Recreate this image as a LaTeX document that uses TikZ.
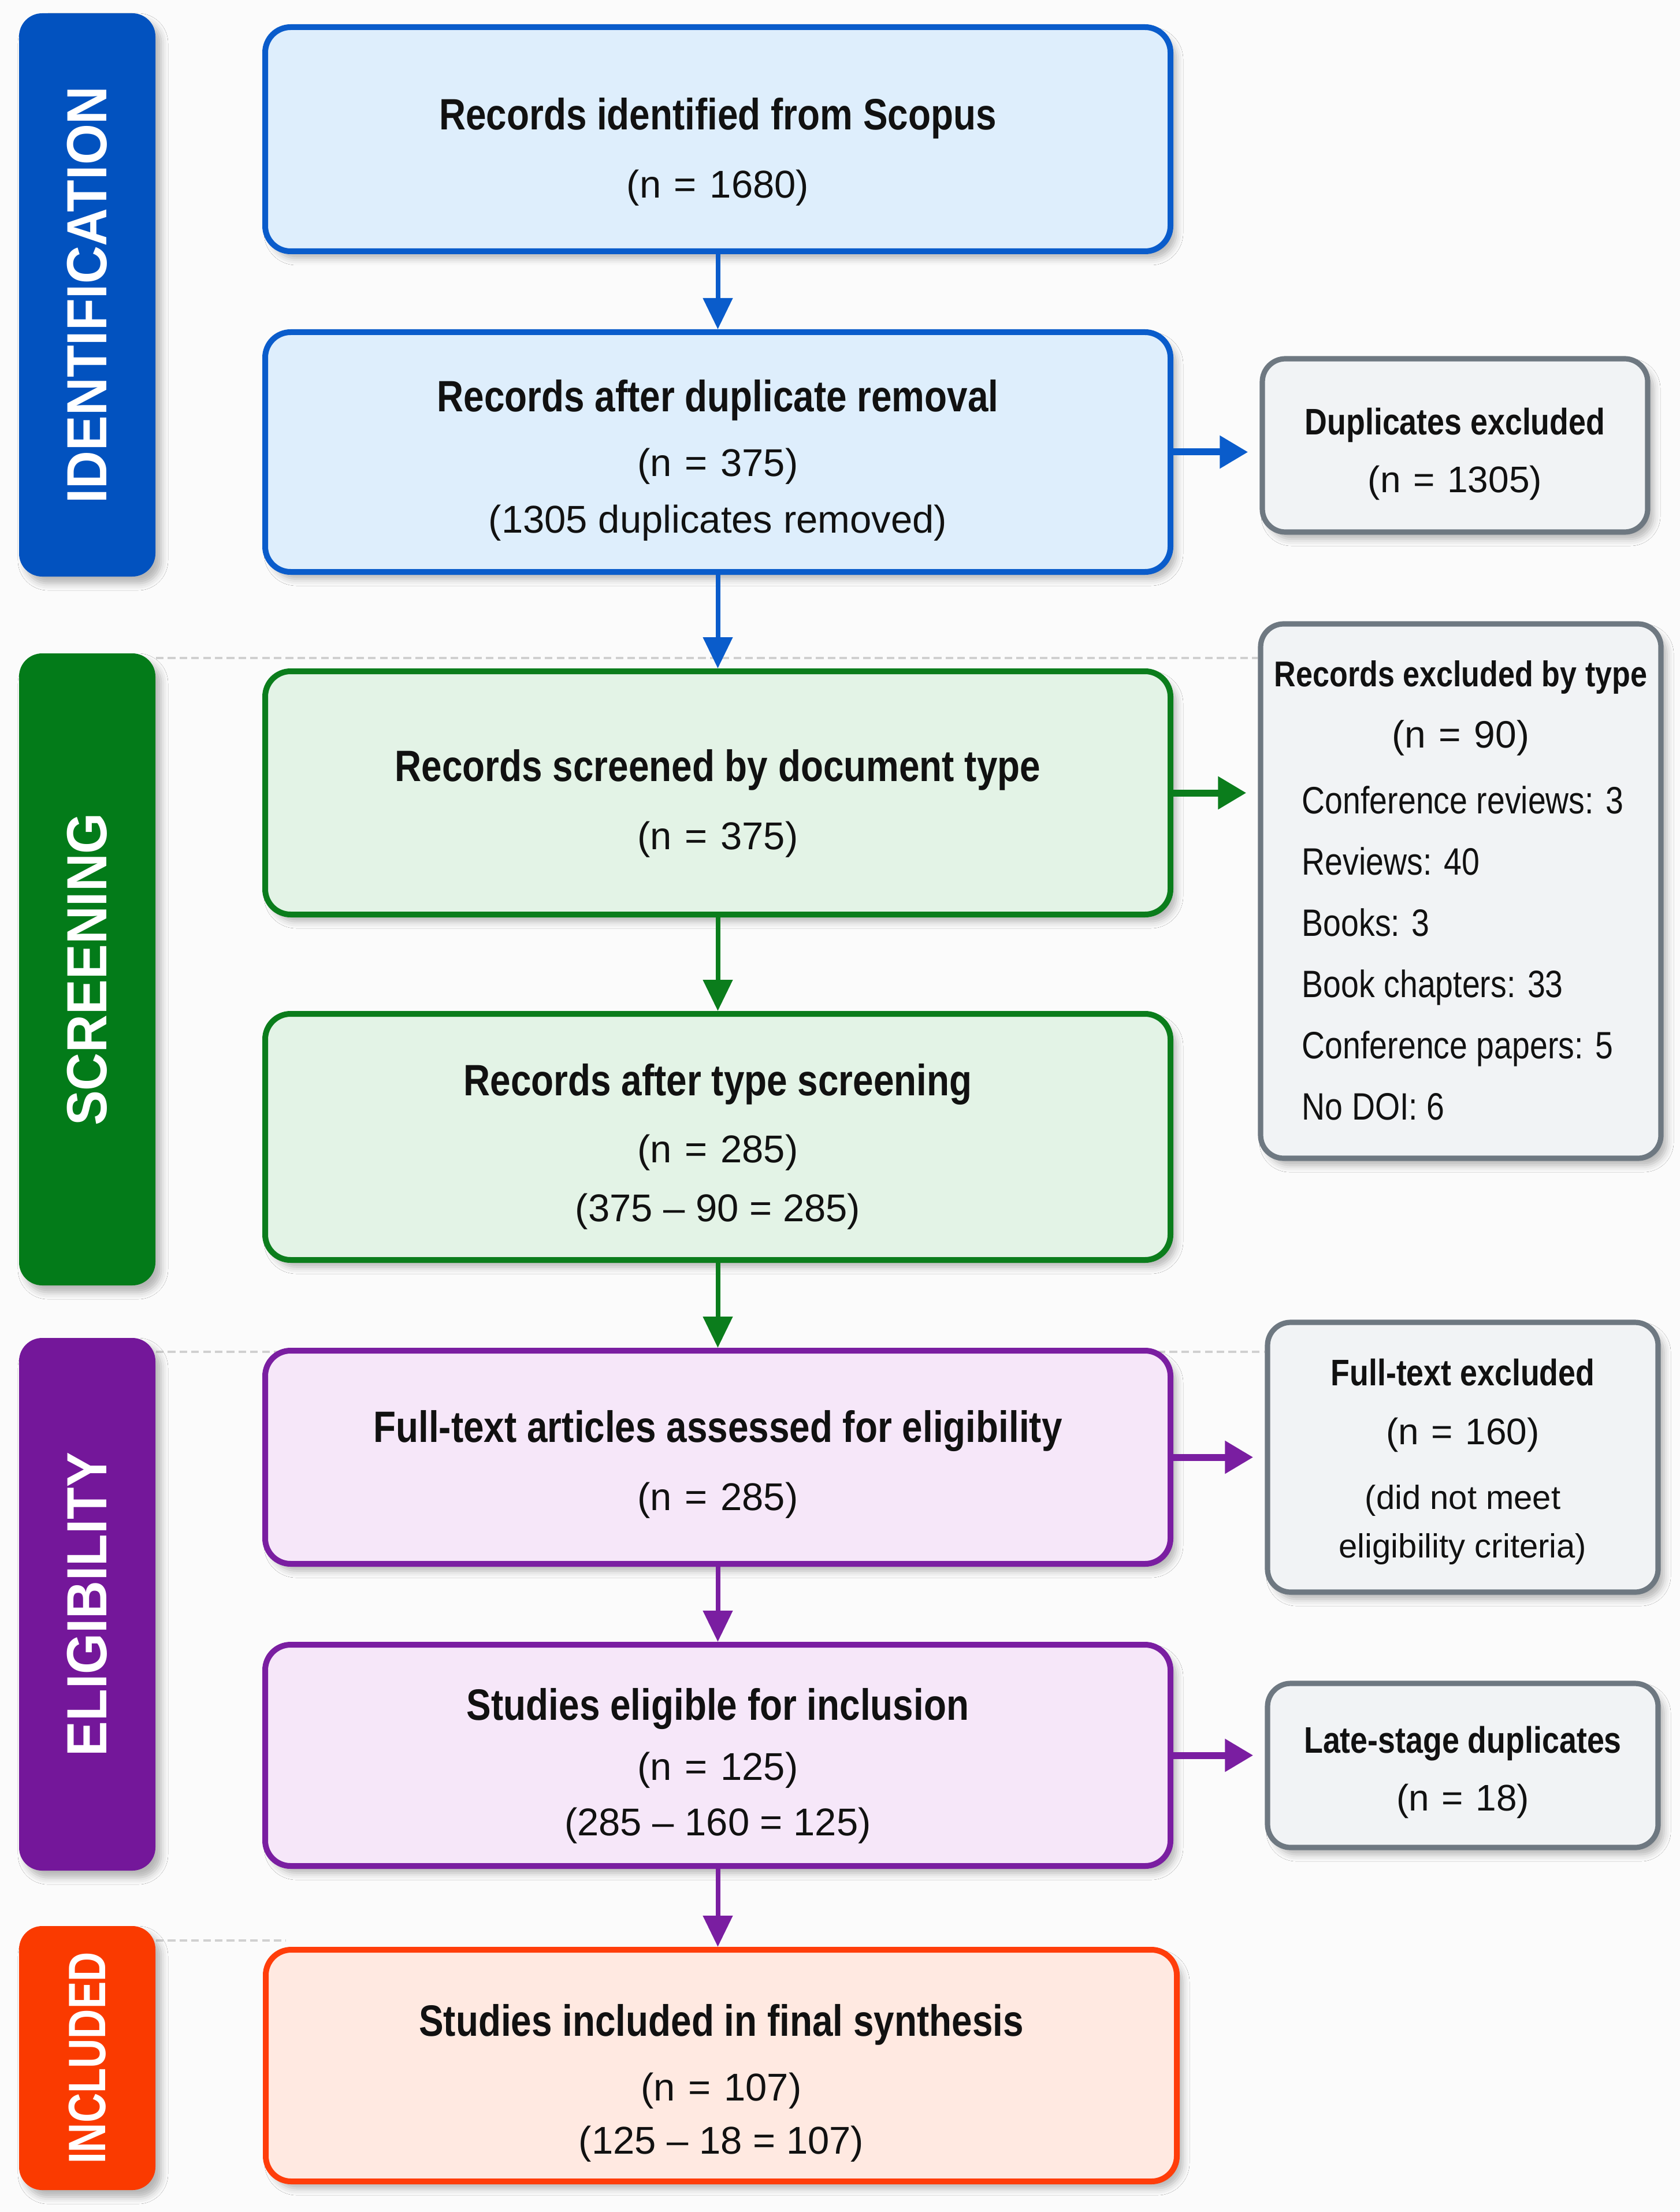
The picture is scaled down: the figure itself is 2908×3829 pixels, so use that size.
\documentclass[tikz,border=0pt]{standalone}
\usepackage{fontspec}
\usepackage{graphicx}
\setmainfont{Liberation Sans}
\newfontfamily\cfont{Liberation Sans}[FakeStretch=0.84]
\newfontfamily\barfont{Liberation Sans}[FakeStretch=0.93]
\newfontfamily\barfontn{Liberation Sans}[FakeStretch=0.78]
\usetikzlibrary{arrows.meta,fit,shadows.blur}

\definecolor{bgc}{HTML}{FBFBFB}
\definecolor{blueD}{HTML}{0A5CCB}
\definecolor{blueBar}{HTML}{0252BF}
\definecolor{blueF}{HTML}{DEEEFC}
\definecolor{greenD}{HTML}{0B7D1C}
\definecolor{greenBar}{HTML}{037B19}
\definecolor{greenF}{HTML}{E3F3E6}
\definecolor{purpD}{HTML}{7A1EA1}
\definecolor{purpBar}{HTML}{74179A}
\definecolor{purpF}{HTML}{F6E7F9}
\definecolor{orD}{HTML}{FF3D0A}
\definecolor{orBar}{HTML}{FA3A00}
\definecolor{orF}{HTML}{FFE9E1}
\definecolor{grayD}{HTML}{6E7881}
\definecolor{grayF}{HTML}{F1F3F5}
\definecolor{txt}{HTML}{111111}
\definecolor{sepc}{HTML}{D0D0D0}

\newcommand{\boxtitle}[1]{{\cfont\bfseries\fontsize{19}{24}\selectfont #1}}
\newcommand{\sidetitle}[1]{{\cfont\bfseries\fontsize{16}{25}\selectfont #1}}
\newcommand{\smalltxt}{\fontsize{14.5}{21}\selectfont}
\newcommand{\nval}[1]{(n\hspace{0.06em} = \hspace{0.06em}#1)}

\tikzset{
  softshadow/.style={blur shadow={shadow xshift=2.5pt, shadow yshift=-3pt, shadow blur radius=3pt, shadow opacity=28}},
  mainbox/.style={draw, line width=2.5pt, rounded corners=11pt, inner sep=0pt, softshadow},
  maintext/.style={align=center, inner sep=0pt, text=txt, font=\fontsize{16.75}{24}\selectfont},
  sidebox/.style={draw=grayD, fill=grayF, line width=2.3pt, rounded corners=10pt, inner sep=0pt, softshadow},
  sidetext/.style={align=center, inner sep=0pt, text=txt, font=\fontsize{16}{25}\selectfont},
  stagebar/.style={rounded corners=10pt, inner sep=0pt, softshadow},
  barlabel/.style={rotate=90, text=white, inner sep=0pt, font=\barfont\bfseries\fontsize{24.5}{26}\selectfont},
  flowarrow/.style={-{Triangle[length=13.5pt,width=12.5pt]}, line width=2pt},
  sidearrow/.style={-{Triangle[length=12.25pt,width=13.5pt]}, line width=3pt, shorten >=5pt},
  sepline/.style={draw=sepc, line width=1pt, dash pattern=on 3.3pt off 1.8pt}
}

\begin{document}
\begin{tikzpicture}[x=0.25pt,y=-0.25pt]
\useasboundingbox (0,0) rectangle (2908,3829);
\fill[bgc] (0,0) rectangle (2908,3829);

% dashed stage separators
\coordinate (s1a) at (270,1139);
\coordinate (s1b) at (2177,1139);
\coordinate (s2a) at (270,2340);
\coordinate (s2b) at (2189,2340);
\coordinate (s3a) at (270,3359);
\coordinate (s3b) at (495,3359);
\draw[sepline] (s1a) -- (s1b);
\draw[sepline] (s2a) -- (s2b);
\draw[sepline] (s3a) -- (s3b);

% stage bars
\node[stagebar, fill=blueBar, fit={(33,23) (269,998)}] (bar1) {};
\node[stagebar, fill=greenBar, fit={(33,1131) (269,2225)}] (bar2) {};
\node[stagebar, fill=purpBar, fit={(33,2316) (269,3238)}] (bar3) {};
\node[stagebar, fill=orBar, fit={(33,3334) (269,3791)}] (bar4) {};
\node[barlabel] (lab1) at (bar1.center) {IDENTIFICATION};
\node[barlabel] (lab2) at (bar2.center) {SCREENING};
\node[barlabel] (lab3) at (bar3.center) {ELIGIBILITY};
\node[barlabel, font=\barfontn\bfseries\fontsize{22.75}{24}\selectfont] (lab4) at (bar4.center) {INCLUDED};

% main boxes
\node[mainbox, draw=blueD, fill=blueF, fit={(459,47) (2026,435)}] (B1) {};
\node[mainbox, draw=blueD, fill=blueF, fit={(459,575) (2026,990)}] (B2) {};
\node[mainbox, draw=greenD, fill=greenF, fit={(459,1162) (2026,1583)}] (B3) {};
\node[mainbox, draw=greenD, fill=greenF, fit={(459,1755) (2026,2181)}] (B4) {};
\node[mainbox, draw=purpD, fill=purpF, fit={(459,2338) (2026,2707)}] (B5) {};
\node[mainbox, draw=purpD, fill=purpF, fit={(459,2847) (2026,3230)}] (B6) {};
\node[mainbox, draw=orD, fill=orF, fit={(460,3375) (2037,3776)}] (B7) {};

\node[maintext] (B1t) at ([yshift=-5.5pt]B1.center)
  {\boxtitle{Records identified from Scopus}\\[5.5pt]\nval{1680}};
\node[maintext] (B2t) at ([yshift=-3.5pt]B2.center)
  {\boxtitle{Records after duplicate removal}\\[4pt]\nval{375}\\[0.5pt](1305 duplicates removed)};
\node[maintext] (B3t) at ([yshift=-4.5pt]B3.center)
  {\boxtitle{Records screened by document type}\\[5.5pt]\nval{375}};
\node[maintext] (B4t) at ([yshift=-4.25pt]B4.center)
  {\boxtitle{Records after type screening}\\[5pt]\nval{285}\\[1.5pt](375 – 90 = 285)};
\node[maintext] (B5t) at ([yshift=-3pt]B5.center)
  {\boxtitle{Full-text articles assessed for eligibility}\\[5.5pt]\nval{285}};
\node[maintext] (B6t) at ([yshift=-4.5pt]B6.center)
  {\boxtitle{Studies eligible for inclusion}\\[2pt]\nval{125}\\(285 – 160 = 125)};
\node[maintext] (B7t) at ([yshift=-7.5pt]B7.center)
  {\boxtitle{Studies included in final synthesis}\\[4pt]\nval{107}\\[-1pt](125 – 18 = 107)};

% side boxes
\node[sidebox, fit={(2185,621) (2852,921)}] (D1) {};
\node[sidebox, fit={(2182,1080) (2875,2005)}] (D2) {};
\node[sidebox, fit={(2194,2289) (2870,2756)}] (D3) {};
\node[sidebox, fit={(2194,2914) (2870,3198)}] (D4) {};

\node[sidetext] (D1t) at ([yshift=-3.75pt]D1.center)
  {\sidetitle{Duplicates excluded}\\\nval{1305}};
\node[inner sep=0pt, text=txt, font=\fontsize{16.5}{26.5}\selectfont] (D2t) at (D2.center)
  {\begin{tabular}{@{}l@{}}
   \multicolumn{1}{@{}c@{}}{\cfont\bfseries\fontsize{15.5}{25}\selectfont Records excluded by type}\\
   \multicolumn{1}{@{}c@{}}{\nval{90}}\\[2pt]
   \hspace*{12pt}{\cfont Conference reviews: 3}\\
   \hspace*{12pt}{\cfont Reviews: 40}\\
   \hspace*{12pt}{\cfont Books: 3}\\
   \hspace*{12pt}{\cfont Book chapters: 33}\\
   \hspace*{12pt}{\cfont Conference papers: 5}\\
   \hspace*{12pt}{\cfont No DOI: 6}
   \end{tabular}};
\node[sidetext, font=\fontsize{16}{21}\selectfont] (D3t) at ([yshift=-2pt]D3.center)
  {\sidetitle{Full-text excluded}\\[4.5pt]\nval{160}\\[7pt]\smalltxt (did not meet\\\smalltxt eligibility criteria)};
\node[sidetext] (D4t) at ([yshift=-3pt]D4.center)
  {\sidetitle{Late-stage duplicates}\\\nval{18}};

% vertical flow arrows
\draw[flowarrow, blueD] (B1.south) -- (B2.north);
\draw[flowarrow, blueD] (B2.south) -- (B3.north);
\draw[flowarrow, greenD] (B3.south) -- (B4.north);
\draw[flowarrow, greenD] (B4.south) -- (B5.north);
\draw[flowarrow, purpD] (B5.south) -- (B6.north);
\draw[flowarrow, purpD] (B6.south) -- (B6.south |- B7.north);

% side arrows
\draw[sidearrow, blueD] (B2.east) -- (B2.east -| D1.west);
\draw[sidearrow, greenD] (B3.east) -- (B3.east -| D2.west);
\draw[sidearrow, purpD] (B5.east) -- (B5.east -| D3.west);
\draw[sidearrow, purpD] (B6.east) -- (B6.east -| D4.west);
\end{tikzpicture}
\end{document}
